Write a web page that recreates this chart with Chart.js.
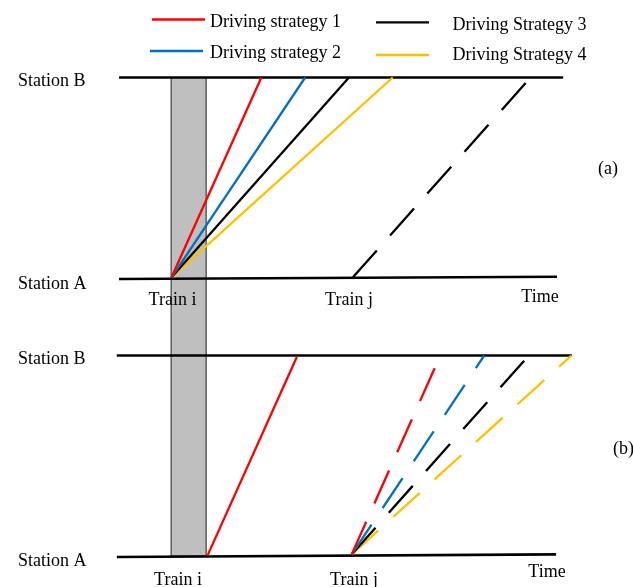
<!DOCTYPE html>
<html>
<head>
<meta charset="utf-8">
<title>Train running diagram – driving strategies</title>
<script src="https://cdn.jsdelivr.net/npm/chart.js@4.4.1/dist/chart.umd.min.js"></script>
<style>
  html, body { margin: 0; padding: 0; background: #ffffff; }
  #wrap { width: 633px; height: 587px; }
</style>
</head>
<body>
<div id="wrap"><canvas id="c" width="633" height="587"></canvas></div>
<script>
// ---- data (time in minutes-like units, position 0 = Station A, 1 = Station B) ----
const strategyNames = ['Driving strategy 1', 'Driving strategy 2', 'Driving Strategy 3', 'Driving Strategy 4'];
const stationNames = ['Station A', 'Station B'];

// panel (a): train i leaves at the end of the blocked window, train j follows
const aLineBTime = [0, 101.4];
const aLineATime = [0, 100];
const aLineAPos = [-0.005, 0.0065];
const aTrainIDepart = 12;
const aTrainIStartPos = 0.0035;
const aTrainIArrive = [32.5, 42.5, 52.5, 62.5];
const aTrainJTime = [53.4, 92.9];
const aTrainJPos = [0.0035, 0.974];

// panel (b): train i is delayed by the blocked window, train j tries each strategy
const bLineBTime = [-0.5, 103.4];
const bLineATime = [-0.5, 99.8];
const bLineAPos = [-0.005, 0.008];
const bTrainITime = [20.2, 40.6];
const bTrainIPos = [0.002, 0.993];
const bTrainJDepart = 53.1;
const bTrainJStartPos = 0.007;
const bTrainJEndTime = [72.1, 83.4, 92.5, 103.3];
const bTrainJEndPos = [0.938, 1, 0.974, 1];

// blocked time window shared by both panels
const blockTime = [11.9, 19.9];

// ---- styling ----
const strategyColors = ['#FF0000', '#0070C0', '#000000', '#FFC000'];
const PANEL_A_OFFSET = 1.3865;   // vertical offset of panel (a) on the shared position scale
const DASH = [36, 20];
const FONT = '18px "Liberation Serif", "Times New Roman", serif';

const pts = (ts, ps, off) => ts.map((t, i) => ({ x: t, y: ps[i] + off }));

function line(data, color, opts) {
  return Object.assign({
    data, showLine: true, borderColor: color, backgroundColor: color,
    borderWidth: 2.3, pointRadius: 0, fill: false, tension: 0, clip: false,
    borderCapStyle: 'butt'
  }, opts || {});
}

const datasets = [];

// station lines
const stationStyle = { order: 1, borderWidth: 2.6 };
datasets.push(line(pts(aLineBTime, [1, 1], PANEL_A_OFFSET), '#000', stationStyle));
datasets.push(line(pts(aLineATime, aLineAPos, PANEL_A_OFFSET), '#000', stationStyle));
datasets.push(line(pts(bLineBTime, [1, 1], 0), '#000', stationStyle));
datasets.push(line(pts(bLineATime, bLineAPos, 0), '#000', stationStyle));

// blocked window band
datasets.push(line([
  { x: blockTime[0], y: 0 },
  { x: blockTime[0], y: 1 + PANEL_A_OFFSET },
  { x: blockTime[1], y: 1 + PANEL_A_OFFSET },
  { x: blockTime[1], y: 0 },
  { x: blockTime[0], y: 0 }
], '#404040', { borderWidth: 1.2, backgroundColor: '#BFBFBF', fill: 'shape', order: 5 }));

// panel (a) train i, one line per strategy
aTrainIArrive.forEach((t, i) => {
  datasets.push(line(pts([aTrainIDepart, t], [aTrainIStartPos, 1], PANEL_A_OFFSET), strategyColors[i], { order: 0 }));
});
// panel (a) train j
datasets.push(line(pts(aTrainJTime, aTrainJPos, PANEL_A_OFFSET), '#000', { borderDash: DASH, order: 0 }));

// panel (b) train i
datasets.push(line(pts(bTrainITime, bTrainIPos, 0), strategyColors[0], { order: 0 }));
// panel (b) train j, one dashed line per strategy
bTrainJEndTime.forEach((t, i) => {
  datasets.push(line(pts([bTrainJDepart, t], [bTrainJStartPos, bTrainJEndPos[i]], 0), strategyColors[i], { borderDash: DASH, order: 0 }));
});

// text annotations and legend
const annotate = {
  id: 'annotate',
  afterDraw(chart) {
    const { ctx, scales } = chart;
    const Y = v => scales.y.getPixelForValue(v);
    ctx.save();
    ctx.font = FONT;
    ctx.fillStyle = '#000';
    ctx.textBaseline = 'alphabetic';

    // station names
    ctx.textAlign = 'left';
    ctx.fillText(stationNames[1], 18, Y(1 + PANEL_A_OFFSET) + 8.5);
    ctx.fillText(stationNames[0], 18, Y(PANEL_A_OFFSET) + 11);
    ctx.fillText(stationNames[1], 18, Y(1) + 8);
    ctx.fillText(stationNames[0], 18, Y(0) + 10);

    // train names and time labels
    ctx.textAlign = 'center';
    ctx.fillText('Train i', 172.5, Y(PANEL_A_OFFSET) + 27);
    ctx.fillText('Train j', 349, Y(PANEL_A_OFFSET) + 27);
    ctx.fillText('Time', 540, Y(PANEL_A_OFFSET) + 23.5);
    ctx.fillText('Train i', 178, Y(0) + 29);
    ctx.fillText('Train j', 354, Y(0) + 29);
    ctx.fillText('Time', 547, Y(0) + 20.5);

    // panel tags
    ctx.fillText('(a)', 608, 173.5);
    ctx.textAlign = 'left';
    ctx.fillText('(b)', 613, 453.5);

    // legend
    const legend = [
      { x1: 152, x2: 205, ly: 19.5, tx: 210, ty: 26.5 },
      { x1: 150, x2: 203, ly: 51, tx: 210, ty: 58.3 },
      { x1: 376, x2: 429, ly: 22.3, tx: 452.5, ty: 30 },
      { x1: 376, x2: 429, ly: 55, tx: 452.5, ty: 60 }
    ];
    legend.forEach((g, i) => {
      ctx.strokeStyle = strategyColors[i];
      ctx.lineWidth = 2.3;
      ctx.beginPath();
      ctx.moveTo(g.x1, g.ly);
      ctx.lineTo(g.x2, g.ly);
      ctx.stroke();
      ctx.fillText(strategyNames[i], g.tx, g.ty);
    });
    ctx.restore();
  }
};

new Chart(document.getElementById('c'), {
  type: 'scatter',
  data: { datasets },
  options: {
    responsive: false,
    animation: false,
    devicePixelRatio: 1,
    layout: { padding: 0 },
    plugins: { legend: { display: false }, tooltip: { enabled: false } },
    scales: {
      x: { type: 'linear', display: false, min: -119 / 4.38, max: (633 - 119) / 4.38 },
      y: { type: 'linear', display: false, min: -31 / 200.5, max: 556 / 200.5 }
    }
  },
  plugins: [annotate]
});
</script>
</body>
</html>
